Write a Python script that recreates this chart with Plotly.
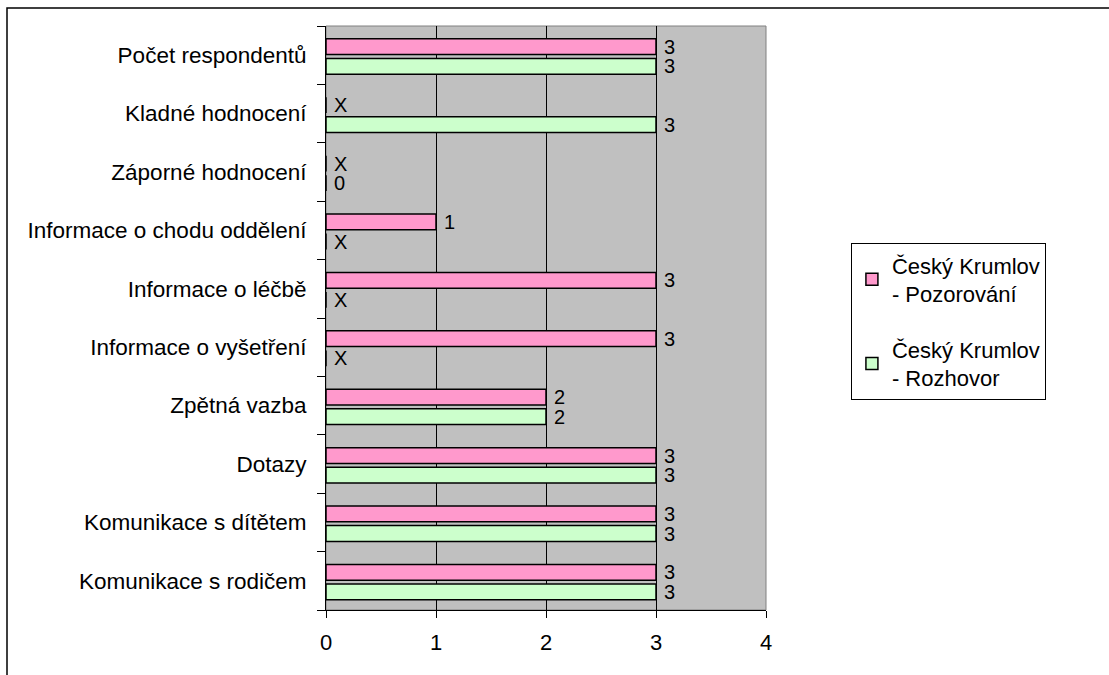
import plotly.graph_objects as go

# Categories, top to bottom
categories = [
    "Počet respondentů",
    "Kladné hodnocení",
    "Záporné hodnocení",
    "Informace o chodu oddělení",
    "Informace o léčbě",
    "Informace o vyšetření",
    "Zpětná vazba",
    "Dotazy",
    "Komunikace s dítětem",
    "Komunikace s rodičem",
]

# None = no data (shown as "X")
pozorovani = [3, None, None, 1, 3, 3, 2, 3, 3, 3]
rozhovor = [3, 3, 0, None, None, None, 2, 3, 3, 3]

series_names = ["Český Krumlov<br>- Pozorování", "Český Krumlov<br>- Rozhovor"]
series_colors = ["#FF99CC", "#CCFFCC"]
x_ticks = [0, 1, 2, 3, 4]

FONT = "Liberation Sans, Arial, sans-serif"
BAR_W = 0.27
OFFSETS = [-0.145, 0.19]

fig = go.Figure()
annotations = []
idx = list(range(len(categories)))

for k, (vals, name, color) in enumerate(zip([pozorovani, rozhovor], series_names, series_colors)):
    ys = [i + OFFSETS[k] for i in idx]
    fig.add_trace(go.Bar(
        x=[0 if v is None else v for v in vals],
        y=ys,
        orientation="h",
        width=BAR_W,
        name=name,
        legendgroup=str(k),
        marker=dict(color=color, line=dict(color="#000000", width=1.5)),
        hoverinfo="skip",
    ))
    for y, v in zip(ys, vals):
        annotations.append(dict(
            x=0 if v is None else v, y=y, xref="x", yref="y",
            text="X" if v is None else str(v),
            showarrow=False, xanchor="left", yanchor="middle", xshift=6,
            font=dict(family=FONT, size=20, color="#000000"),
        ))

n = len(categories)
fig.update_layout(
    width=1109, height=675,
    margin=dict(l=326, r=343, t=26, b=65),
    paper_bgcolor="#FFFFFF",
    plot_bgcolor="#C0C0C0",
    barmode="overlay",
    font=dict(family=FONT, size=22, color="#000000"),
    showlegend=True,
    legend=dict(
        x=1.193, y=0.628, xanchor="left", yanchor="top",
        bgcolor="#FFFFFF", bordercolor="#000000", borderwidth=1,
        font=dict(family=FONT, size=22, color="#000000"),
        tracegroupgap=24,
    ),
    xaxis=dict(
        range=[0, 4], tickvals=x_ticks, ticktext=[str(t) for t in x_ticks],
        showgrid=True, gridcolor="#000000", gridwidth=1, zeroline=False,
        showline=True, linecolor="#000000", linewidth=1,
        ticks="outside", ticklen=7, tickcolor="#000000",
        ticklabelstandoff=6,
        tickfont=dict(family=FONT, size=22),
    ),
    yaxis=dict(
        range=[n - 0.5, -0.5], tickvals=idx, ticktext=categories,
        showgrid=False, zeroline=False,
        showline=True, linecolor="#000000", linewidth=1,
        ticks="", ticklabelstandoff=14,
        minor=dict(tickvals=[i - 0.5 for i in range(n + 1)], ticks="outside",
                   ticklen=8, tickcolor="#000000", showgrid=False),
        tickfont=dict(family=FONT, size=22.5),
    ),
    annotations=annotations,
    shapes=[
        # plot area frame (top and right)
        dict(type="rect", xref="x domain", yref="y domain", x0=0, x1=1, y0=0, y1=1,
             line=dict(color="#808080", width=1), layer="below"),
        # outer chart border
        dict(type="rect", xref="paper", yref="paper", x0=-0.725, x1=2.0, y0=-0.3, y1=1.0308,
             line=dict(color="#000000", width=1.5)),
    ],
)

fig.write_html("out.html")
